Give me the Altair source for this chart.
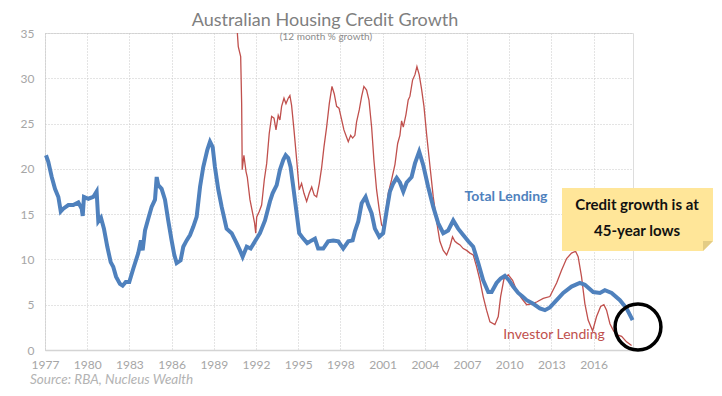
import altair as alt
import pandas as pd

# ---- data ----
tick_years = [1977, 1980, 1983, 1986, 1989, 1992, 1995, 1998, 2001, 2004, 2007, 2010, 2013, 2016]
y_ticks = [0, 5, 10, 15, 20, 25, 30, 35]

total_years = [1977.07, 1977.23, 1977.48, 1977.71, 1977.95, 1978.12, 1978.30, 1978.66, 1979.01, 1979.37,
               1979.61, 1979.68, 1979.77, 1980.08, 1980.43, 1980.67, 1980.79, 1980.98, 1981.19, 1981.43,
               1981.67, 1981.85, 1982.05, 1982.33, 1982.52, 1982.74, 1982.99, 1983.28, 1983.63, 1983.82,
               1983.94, 1984.11, 1984.34, 1984.58, 1984.82, 1984.94, 1985.05, 1985.29, 1985.53, 1985.76,
               1986.00, 1986.19, 1986.36, 1986.64, 1986.83, 1987.07, 1987.31, 1987.54, 1987.78, 1988.02,
               1988.25, 1988.54, 1988.73, 1988.92, 1989.08, 1989.32, 1989.56, 1989.91, 1990.27, 1990.62,
               1990.86, 1991.05, 1991.34, 1991.62, 1991.93, 1992.28, 1992.64, 1992.99, 1993.18, 1993.47,
               1993.70, 1993.94, 1994.11, 1994.29, 1994.46, 1994.65, 1994.89, 1995.07, 1995.36, 1995.64,
               1995.96, 1996.19, 1996.42, 1996.78, 1997.13, 1997.49, 1997.85, 1998.20, 1998.56, 1998.87,
               1999.03, 1999.27, 1999.51, 1999.79, 1999.98, 2000.22, 2000.45, 2000.76, 2001.04, 2001.28,
               2001.52, 2001.76, 2002.00, 2002.23, 2002.47, 2002.71, 2003.06, 2003.30, 2003.60, 2003.89,
               2004.24, 2004.60, 2004.95, 2005.31, 2005.66, 2006.02, 2006.37, 2006.73, 2007.09, 2007.44,
               2007.80, 2008.15, 2008.51, 2008.75, 2009.10, 2009.39, 2009.69, 2009.98, 2010.28, 2010.64,
               2010.95, 2011.24, 2011.71, 2012.18, 2012.54, 2012.89, 2013.37, 2013.84, 2014.43, 2015.02,
               2015.38, 2015.97, 2016.45, 2016.80, 2017.28, 2017.87, 2018.34, 2018.77]
total_growth = [21.5, 20.8, 19.1, 17.8, 16.9, 15.3, 15.6, 16.0, 16.0, 16.3,
                15.6, 14.8, 16.9, 16.7, 16.9, 17.5, 14.2, 14.6, 13.4, 11.4,
                9.7, 9.2, 8.1, 7.3, 7.1, 7.5, 7.5, 9.0, 10.7, 12.1,
                11.0, 13.2, 14.5, 15.8, 16.6, 19.1, 18.2, 17.8, 16.6, 14.3,
                12.1, 10.5, 9.6, 9.9, 11.4, 12.1, 12.7, 13.6, 14.7, 18.0,
                20.2, 22.1, 23.0, 22.4, 20.2, 17.7, 15.8, 13.4, 12.9, 11.8,
                11.0, 10.3, 11.4, 11.2, 12.0, 12.9, 14.3, 16.4, 17.3, 18.2,
                19.9, 21.0, 21.5, 21.2, 20.2, 18.0, 15.1, 12.9, 12.3, 11.8,
                12.1, 12.3, 11.2, 11.2, 12.0, 12.1, 12.0, 11.2, 12.0, 12.1,
                13.1, 14.2, 16.2, 16.9, 16.0, 15.1, 13.4, 12.5, 12.9, 15.3,
                17.5, 18.4, 19.0, 18.5, 17.5, 18.5, 19.1, 20.6, 21.9, 20.4,
                18.0, 15.8, 14.0, 12.9, 13.2, 14.3, 13.4, 12.7, 12.0, 11.4,
                9.6, 7.7, 6.4, 6.4, 7.4, 7.9, 8.2, 7.7, 7.0, 6.3,
                5.9, 5.5, 5.1, 4.6, 4.4, 4.7, 5.5, 6.3, 7.0, 7.4,
                7.2, 6.4, 6.3, 6.6, 6.3, 5.5, 4.6, 3.3]

investor_years = [1990.54, 1990.74, 1990.91, 1990.98, 1991.02, 1991.14, 1991.29, 1991.38, 1991.57, 1991.76,
                  1991.90, 1991.98, 1992.05, 1992.23, 1992.40, 1992.59, 1992.76, 1992.94, 1993.11, 1993.28,
                  1993.42, 1993.58, 1993.70, 1993.82, 1993.99, 1994.13, 1994.29, 1994.41, 1994.53, 1994.70,
                  1994.89, 1995.07, 1995.24, 1995.41, 1995.60, 1995.78, 1995.96, 1996.14, 1996.31, 1996.50,
                  1996.67, 1996.83, 1997.02, 1997.21, 1997.40, 1997.56, 1997.73, 1997.90, 1998.09, 1998.25,
                  1998.44, 1998.56, 1998.73, 1998.87, 1999.03, 1999.15, 1999.34, 1999.51, 1999.67, 1999.86,
                  2000.03, 2000.22, 2000.38, 2000.57, 2000.76, 2000.93, 2001.04, 2001.21, 2001.40, 2001.64,
                  2001.88, 2002.07, 2002.23, 2002.35, 2002.47, 2002.66, 2002.82, 2002.94, 2003.13, 2003.30,
                  2003.44, 2003.60, 2003.77, 2003.94, 2004.13, 2004.36, 2004.60, 2004.84, 2005.07, 2005.31,
                  2005.55, 2005.78, 2005.97, 2006.14, 2006.30, 2006.50, 2006.73, 2006.97, 2007.21, 2007.44,
                  2007.68, 2007.92, 2008.15, 2008.39, 2008.63, 2008.98, 2009.22, 2009.39, 2009.62, 2009.93,
                  2010.24, 2010.52, 2010.88, 2011.24, 2011.59, 2011.95, 2012.42, 2012.89, 2013.37, 2013.72,
                  2014.08, 2014.43, 2014.72, 2014.90, 2015.14, 2015.38, 2015.61, 2015.93, 2016.21, 2016.50,
                  2016.73, 2016.92, 2017.16, 2017.39, 2017.63, 2017.99, 2018.34, 2018.70]
investor_growth = [38.0, 33.5, 32.4, 27.2, 19.9, 21.5, 19.7, 19.1, 16.6, 15.1,
                   14.0, 12.9, 14.7, 15.3, 16.0, 18.8, 20.6, 23.9, 25.8, 25.6,
                   24.3, 25.9, 25.4, 26.9, 27.8, 27.2, 27.8, 28.1, 27.0, 24.3,
                   21.0, 17.7, 18.4, 17.3, 16.4, 17.3, 18.0, 17.1, 16.9, 18.4,
                   20.2, 22.4, 24.6, 27.2, 29.1, 28.3, 26.9, 26.7, 25.4, 24.3,
                   23.5, 23.0, 23.7, 23.4, 23.7, 25.2, 26.5, 28.0, 29.1, 28.7,
                   27.6, 24.6, 21.0, 17.7, 15.5, 13.8, 13.6, 15.1, 17.3, 18.8,
                   20.5, 22.8, 23.7, 25.3, 24.6, 26.0, 27.6, 28.0, 29.8, 30.4,
                   31.3, 30.4, 28.8, 26.9, 23.8, 20.4, 16.9, 14.2, 12.0, 11.0,
                   10.5, 11.4, 12.5, 12.0, 11.8, 11.6, 11.2, 11.0, 10.7, 10.5,
                   9.2, 7.7, 5.9, 4.4, 3.1, 2.8, 3.7, 5.9, 7.8, 8.3,
                   7.7, 6.6, 5.7, 5.0, 5.1, 5.3, 5.7, 5.9, 7.4, 8.8,
                   10.1, 10.7, 10.9, 10.3, 8.1, 5.1, 3.3, 2.1, 3.7, 4.8,
                   5.0, 4.4, 2.9, 2.2, 1.7, 1.5, 0.9, 0.5]

total = pd.DataFrame({"year": total_years, "growth": total_growth})
investor = pd.DataFrame({"year": investor_years, "growth": investor_growth})

W, H = 588, 317
FONT = "Lato"
x_scale = alt.Scale(domain=[1977, 2018.8], nice=False, zero=False)
y_scale = alt.Scale(domain=[0, 35], nice=False, zero=True)

x_axis = alt.Axis(values=tick_years, format="d", title=None, grid=True, gridDash=[1, 2],
                  gridColor="#c8c8c8", ticks=False, domainColor="#d4d4d4", domainWidth=1.5,
                  labelColor="#a6a6a6", labelFont=FONT, labelFontSize=12, labelPadding=9,
                  labelFlush=False)
y_axis = alt.Axis(values=y_ticks, title=None, grid=True, gridDash=[1, 2], gridColor="#c8c8c8",
                  ticks=False, domain=False, labelColor="#a6a6a6", labelFont=FONT,
                  labelFontSize=12, labelPadding=11)

red = alt.Chart(investor).mark_line(color="#C0504D", strokeWidth=1.3, clip=True).encode(
    x=alt.X("year:Q", scale=x_scale, axis=x_axis),
    y=alt.Y("growth:Q", scale=y_scale, axis=y_axis),
)
blue = alt.Chart(total).mark_line(color="#4F81BD", strokeWidth=4).encode(
    x=alt.X("year:Q", scale=x_scale),
    y=alt.Y("growth:Q", scale=y_scale),
)

one = pd.DataFrame({"k": [0]})


def label(text, x, y, **kw):
    return alt.Chart(one).mark_text(text=text, **kw).encode(x=alt.value(x), y=alt.value(y))


title = label("Australian Housing Credit Growth", 280, -12, font=FONT, fontSize=18,
              color="#7f7f7f", align="center", baseline="middle")
subtitle = label("(12 month % growth)", 281, 4, font=FONT, fontSize=10,
                 color="#8c8c8c", align="center", baseline="middle")
source = label("Source: RBA, Nucleus Wealth", -15, 347, font=FONT, fontSize=13.5, fontStyle="italic",
               color="#b3b3b3", align="left", baseline="middle")
total_lbl = label("Total Lending", 461, 164, font=FONT, fontSize=14, fontWeight="bold",
                  color="#4F81BD", align="center", baseline="middle")
inv_lbl = label("Investor Lending", 509, 302, font=FONT, fontSize=14,
                color="#C0504D", align="center", baseline="middle")

note = alt.Chart(one).mark_rect(color="#FFE699").encode(
    x=alt.value(517), x2=alt.value(668), y=alt.value(155), y2=alt.value(218))
cut = alt.Chart(one).mark_point(shape="M 1 -1 L 1 1 L -1 1 Z", filled=True, color="white",
                                opacity=1, size=100).encode(x=alt.value(663), y=alt.value(213))
fold = alt.Chart(one).mark_point(shape="M 1 -1 L -1 1 L -1 -1 Z", filled=True, color="#E3CC85",
                                 opacity=1, size=100).encode(x=alt.value(663), y=alt.value(213))
note1 = label("Credit growth is at", 592, 172, font=FONT, fontSize=15, fontWeight="bold",
              color="#111111", align="center", baseline="middle")
note2 = label("45-year lows", 592, 198, font=FONT, fontSize=15, fontWeight="bold",
              color="#111111", align="center", baseline="middle")
circle = alt.Chart(one).mark_point(shape="circle", size=2100, filled=False, color="black",
                                   strokeWidth=3.5, opacity=1).encode(x=alt.value(593), y=alt.value(294))

chart = alt.layer(red, blue, title, subtitle, source, total_lbl, inv_lbl,
                  note, cut, fold, note1, note2, circle).properties(
    width=W, height=H,
    autosize=alt.AutoSizeParams(type="none"),
    padding={"left": 37, "top": 25, "right": 81, "bottom": 38},
).configure_view(strokeWidth=0).configure(background="white")

chart.save("out.html", embed_options={"renderer": "svg", "actions": False})
